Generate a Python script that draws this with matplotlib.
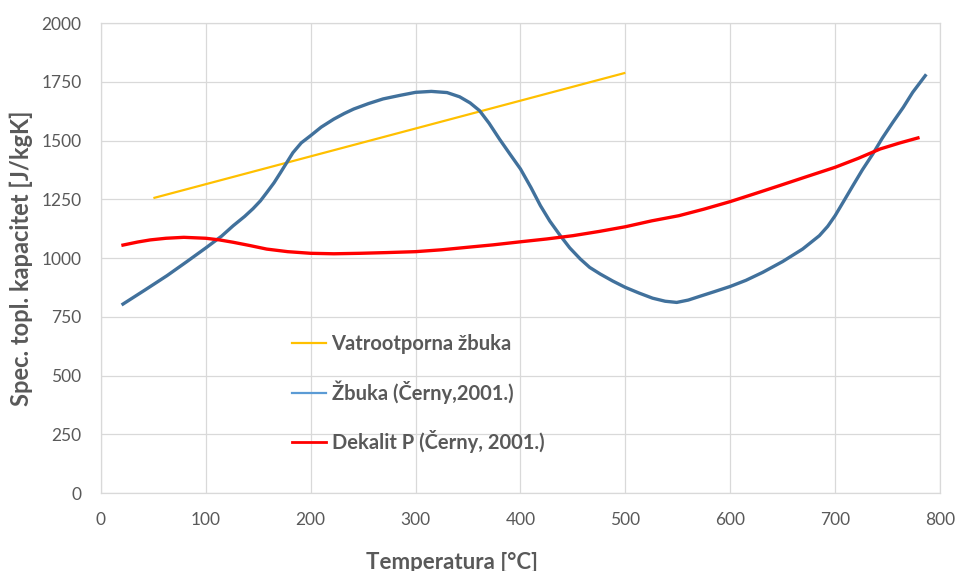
import matplotlib.pyplot as plt
from matplotlib.lines import Line2D

# Vatrootporna žbuka (straight line)
vat_t = [50, 500]
vat_c = [1255, 1788]

# Žbuka (Černy, 2001.)
zb_t = [21, 42, 63, 82, 100, 115, 126, 137, 145, 152, 158, 165, 171, 177, 183, 191, 200,
        210, 222, 232, 241, 255, 269, 285, 300, 315, 330, 342, 352, 361, 370, 380, 390,
        400, 410, 419, 428, 438, 447, 457, 466, 476, 488, 500, 513, 526, 538, 549, 560,
        571, 585, 600, 615, 631, 650, 669, 685, 693, 700, 708, 717, 726, 736, 745, 755,
        765, 774, 786]
zb_c = [804, 864, 925, 985, 1043, 1093, 1137, 1177, 1210, 1243, 1278, 1320, 1362, 1405,
        1448, 1490, 1521, 1557, 1591, 1615, 1634, 1657, 1677, 1692, 1705, 1709, 1704, 1686,
        1660, 1627, 1574, 1506, 1442, 1379, 1300, 1223, 1157, 1095, 1043, 996, 960, 932,
        902, 875, 851, 829, 816, 811, 821, 837, 857, 879, 905, 939, 985, 1038, 1095, 1135,
        1180, 1240, 1308, 1375, 1443, 1510, 1577, 1641, 1705, 1776]

# Dekalit P (Černy, 2001.)
dk_t = [21, 35, 47, 62, 79, 100, 113, 126, 142, 158, 178, 200, 222, 247, 272, 300, 325,
        348, 374, 400, 425, 450, 475, 500, 525, 551, 575, 600, 623, 647, 672, 700, 722,
        743, 762, 779]
dk_c = [1055, 1068, 1077, 1084, 1088, 1084, 1077, 1067, 1053, 1038, 1027, 1020, 1018,
        1020, 1023, 1027, 1035, 1045, 1056, 1069, 1081, 1095, 1113, 1133, 1158, 1180,
        1208, 1240, 1273, 1308, 1345, 1386, 1424, 1464, 1490, 1511]

labels = ['Vatrootporna žbuka', 'Žbuka (Černy,2001.)', 'Dekalit P (Černy, 2001.)']

plt.rcParams['font.family'] = ['Lato', 'DejaVu Sans']

fig = plt.figure(figsize=(9.57, 5.71), dpi=100)
ax = fig.add_axes([0.1055, 0.1366, 0.8767, 0.8231])

ax.plot(vat_t, vat_c, color='#FFC000', lw=1.6, solid_capstyle='butt')
ax.plot(zb_t, zb_c, color='#41719C', lw=2.4, solid_joinstyle='round')
ax.plot(dk_t, dk_c, color='#FF0000', lw=2.4, solid_joinstyle='round')

ax.set_xlim(0, 800)
ax.set_ylim(0, 2000)
ax.set_xticks(range(0, 801, 100))
ax.set_yticks(range(0, 2001, 250))
ax.grid(True, color='#D9D9D9', lw=0.9)
ax.set_axisbelow(True)
for s in ax.spines.values():
    s.set_color('#D9D9D9')
    s.set_linewidth(0.9)
ax.tick_params(length=0, labelsize=12.5, colors='#595959', pad=14)
ax.tick_params(axis='y', pad=14)

ax.set_xlabel('Temperatura [°C]', fontsize=16, fontweight='bold', color='#595959')
ax.set_ylabel('Spec. topl. kapacitet [J/kgK]', fontsize=17, fontweight='bold', color='#595959')
ax.xaxis.set_label_coords(0.418, -0.125)
ax.yaxis.set_label_coords(-0.081, 0.5)

handles = [Line2D([], [], color='#FFC000', lw=1.6),
           Line2D([], [], color='#5B9BD5', lw=1.6),
           Line2D([], [], color='#FF0000', lw=2.0)]
leg = ax.legend(handles, labels, loc='upper left', bbox_to_anchor=(0.228, 0.338),
                frameon=False, borderaxespad=0, borderpad=0,
                handlelength=1.7, handletextpad=0.25, labelspacing=1.3,
                prop={'size': 14.5, 'weight': 'bold'})
for t in leg.get_texts():
    t.set_color('#595959')

plt.savefig('out.png')
